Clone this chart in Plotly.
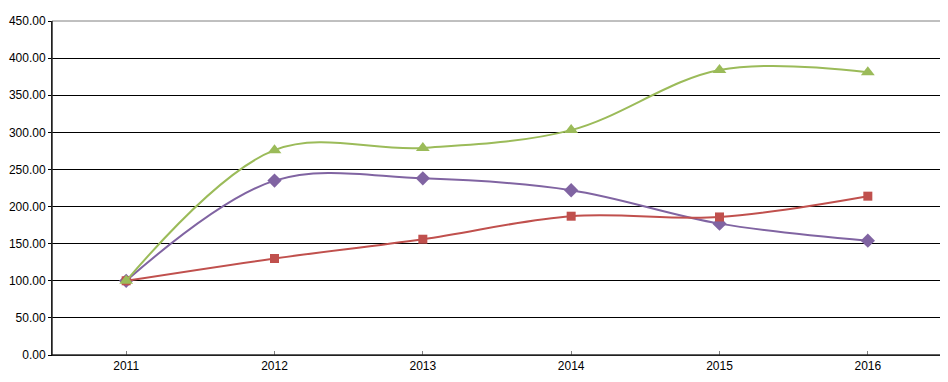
import plotly.graph_objects as go

years = ["2011", "2012", "2013", "2014", "2015", "2016"]
series_purple = [100, 235, 238, 222, 177, 154]
series_red = [100, 130, 156, 187, 186, 214]
series_green = [100, 276, 279, 303, 384, 381]
y_ticks = [0, 50, 100, 150, 200, 250, 300, 350, 400, 450]

fig = go.Figure()
fig.add_trace(go.Scatter(x=years, y=series_purple, mode="lines+markers",
                         line=dict(color="#8064A2", width=2, shape="spline", smoothing=1),
                         marker=dict(symbol="diamond", size=11, color="#8064A2")))
fig.add_trace(go.Scatter(x=years, y=series_red, mode="lines+markers",
                         line=dict(color="#C0504D", width=2, shape="spline", smoothing=1),
                         marker=dict(symbol="square", size=9, color="#C0504D")))
fig.add_trace(go.Scatter(x=years, y=series_green, mode="lines+markers",
                         line=dict(color="#9BBB59", width=2, shape="spline", smoothing=1),
                         marker=dict(symbol="triangle-up", size=12, color="#9BBB59")))

fig.add_shape(type="rect", xref="paper", yref="paper", x0=0, x1=1, y0=0, y1=1,
              line=dict(color="#808080", width=1), layer="above")
fig.add_shape(type="line", xref="paper", yref="paper", x0=0, x1=0, y0=0, y1=1,
              line=dict(color="black", width=1), layer="above")
fig.add_shape(type="line", xref="paper", yref="paper", x0=0, x1=1, y0=0, y1=0,
              line=dict(color="black", width=1), layer="above")

fig.update_layout(
    width=940, height=374,
    margin=dict(l=44, r=6, t=13, b=27, autoexpand=False),
    paper_bgcolor="white", plot_bgcolor="white",
    showlegend=False,
    font=dict(family="Liberation Sans, Arial, sans-serif", size=12, color="black"),
    xaxis=dict(type="category", range=[-0.5, 5.5], showgrid=False, automargin=False,
               showline=True, linecolor="black", linewidth=1,
               ticks="inside", ticklen=4, tickcolor="#808080", zeroline=False),
    yaxis=dict(range=[0, 450], tickvals=y_ticks, tickformat=".2f", automargin=False,
               showgrid=True, gridcolor="black", gridwidth=1,
               showline=True, linecolor="black", linewidth=1,
               ticks="outside", ticklen=3, tickcolor="black", zeroline=False),
)

fig.write_html("out.html")
